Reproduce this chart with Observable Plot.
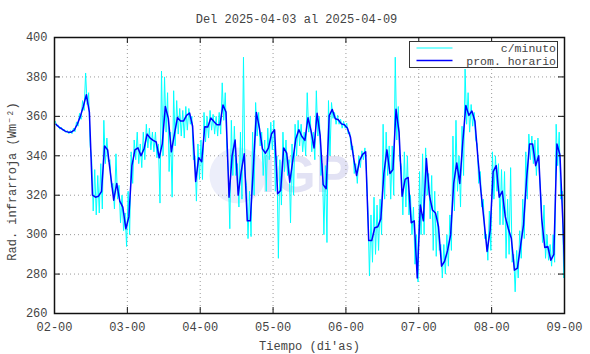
<!DOCTYPE html>
<html><head><meta charset="utf-8">
<script src="https://cdn.jsdelivr.net/npm/d3@7"></script>
<script src="https://cdn.jsdelivr.net/npm/@observablehq/plot@0.6"></script>
<style>
html,body{margin:0;padding:0;background:#fff;}
#chart{width:590px;height:354px;}
</style></head><body><div id="chart"></div>
<script>
const title = "Del 2025-04-03 al 2025-04-09";
const xLabel = "Tiempo (di'as)";
const yLabel = "Rad. infrarroja (Wm⁻²)";
const seriesNames = ["c/minuto", "prom. horario"];
const seriesColors = ["#00ffff", "#0000ff"];
const xTickHours = [0, 24, 48, 72, 96, 120, 144, 168];
const xTickLabels = ["02-00", "03-00", "04-00", "05-00", "06-00", "07-00", "08-00", "09-00"];
const yTicks = [260, 280, 300, 320, 340, 360, 380, 400];

// hourly average (prom. horario), one value per hour starting at 02-00
const hourly = [
 356, 354.5, 353.5, 352.5, 352, 352, 353, 356, 360, 365,
 371, 362, 320, 319, 319.5, 322, 345, 343, 330, 317.5,
 326, 317, 314, 303, 309, 335, 343, 344, 340, 343.5,
 351, 349, 347.8, 347, 339, 346, 365, 359, 342, 351,
 359.4, 357.6, 357.6, 360.5, 361.7, 355, 327, 339, 337, 354.7,
 354.6, 359.2, 357.4, 355.7, 355.7, 365.8, 362.2, 319, 340, 348,
 320, 332, 341, 307, 307, 334, 362, 354, 343.5, 341.3,
 344, 351.2, 353.2, 320.7, 322.4, 344, 341.3, 326.6, 337.6, 348.6,
 353.2, 349.8, 347.8, 359.3, 352.8, 344, 361.6, 350.5, 325.4, 323.3,
 360.4, 363.5, 358.8, 358.3, 356.2, 355.7, 354, 349.4, 339.3, 330,
 337.6, 340.7, 342, 297, 297, 303.5, 304, 308, 331, 343,
 331, 333, 363.6, 352, 319.5, 328, 329, 306, 307, 278,
 315, 307, 338.6, 320, 312.5, 311, 304, 284, 286.5, 292,
 300, 326, 336.4, 326, 347, 365.5, 360.5, 362.7, 357.5, 338.5,
 321.5, 307, 291.5, 302, 332, 335, 319, 322, 309, 303,
 298, 282, 283, 294, 305, 328, 346, 346, 335, 340,
 308, 293.5, 294, 287, 290, 346, 340.5, 305, 262
];
// per-minute data (c/minuto): highest and lowest reading inside each hour
const minuteMax = [
 357.5, 355.5, 354.5, 353.3, 352.8, 352.8, 354, 357.2, 361.5, 368,
 382, 372, 338, 333, 330, 336, 358, 349, 338, 326,
 341, 325, 320, 311, 322, 342, 348, 352, 346, 352,
 356, 354, 352, 352, 346, 383, 380, 372, 352, 373,
 368, 364, 363, 365, 364, 360, 340, 346, 348, 362,
 360, 363, 361, 360, 362, 377, 372, 332, 358, 355,
 336, 352, 390, 325, 322, 352, 367, 362, 352, 348,
 354, 357, 358, 340, 338, 352, 348, 338, 346, 356,
 358, 356, 352, 372, 360, 352, 373, 360, 336, 335,
 368, 367, 362, 360.5, 358.5, 357.5, 356.5, 352, 345, 336,
 340, 342.5, 344, 312, 310, 319, 315, 318, 356, 352,
 345, 345, 390, 365, 335, 342, 340, 320, 314, 300,
 332, 341, 344, 331, 330, 322, 312, 295, 295, 300,
 310, 350, 358, 340, 355, 384, 372, 366, 362, 346,
 332, 318, 300, 312, 342, 340, 336, 333, 332, 318,
 334, 290, 292, 302, 318, 342, 351, 350, 348, 349,
 318, 315, 300, 295, 300, 356, 352, 322, 290
];
const minuteMin = [
 355, 353.5, 352.8, 351.8, 351.2, 351.2, 352.2, 355, 358.5, 363,
 366, 345, 312, 310, 311, 313, 336, 337, 324, 313,
 318, 306, 302, 294, 300, 326, 338, 336, 334, 338,
 344, 343, 342, 339, 316, 340, 352, 332, 319, 345,
 351, 350, 349, 353, 356, 338, 317, 328, 328, 347,
 349, 353, 351, 350, 351, 358, 345, 303, 330, 330,
 314, 318, 330, 298, 299, 320, 350, 345, 330, 322,
 338, 343, 322, 288, 315, 332, 330, 306, 320, 340,
 345, 342, 340, 352, 342, 338, 350, 330, 300, 296,
 340, 359, 356, 356, 354, 354, 351, 343, 331, 326,
 334, 338, 332, 279, 286, 290, 292, 300, 318, 330,
 318, 320, 348, 338, 310, 314, 310, 300, 285, 276,
 300, 300, 320, 308, 292, 289, 292, 278, 280, 284,
 292, 312, 322, 314, 330, 356, 352, 355, 348, 326,
 314, 298, 287, 292, 318, 322, 305, 305, 288, 290,
 286, 271, 278, 288, 298, 318, 338, 336, 330, 330,
 296, 288, 287, 284, 286, 335, 318, 278, 262
];

const hourlyData = hourly.map((v, i) => ({t: i + 0.5, v}));
const minuteData = minuteMax.flatMap((hi, i) => [
  {t: i + 0.25, v: hi},
  {t: i + 0.75, v: minuteMin[i]}
]);

const W = 590, H = 354, mL = 54, mR = 26, mT = 37, mB = 41;
const fw = W - mL - mR, fh = H - mT - mB;
const textColor = "#444";
const monoFont = "'Liberation Mono', 'DejaVu Sans Mono', monospace";

const chart = Plot.plot({
  width: W, height: H,
  marginLeft: mL, marginRight: mR, marginTop: mT, marginBottom: mB,
  style: {fontFamily: monoFont, fontSize: "12px", color: textColor, background: "#fff"},
  x: {domain: [0, 168], label: null},
  y: {domain: [260, 400], label: null},
  marks: [
    Plot.dot([0], {frameAnchor: "middle", dx: -72, r: 28, fill: "#eceefa", stroke: "none"}),
    Plot.text(["IGP"], {frameAnchor: "middle", dx: -4, fontSize: 52, fontWeight: "bold",
      fontFamily: "'Liberation Sans', Arial, sans-serif", fill: "#e2e2f4"}),
    Plot.gridX(xTickHours, {stroke: "#9a9a9a", strokeOpacity: 1, strokeDasharray: "1,3"}),
    Plot.gridY(yTicks, {stroke: "#9a9a9a", strokeOpacity: 1, strokeDasharray: "1,3"}),
    Plot.line(minuteData, {x: "t", y: "v", stroke: seriesColors[0], strokeWidth: 1, clip: true}),
    Plot.line(hourlyData, {x: "t", y: "v", stroke: seriesColors[1], strokeWidth: 1.5, clip: true}),
    Plot.tickX(xTickHours, {x: d => d, insetTop: fh - 6, stroke: "#111"}),
    Plot.tickX(xTickHours, {x: d => d, insetBottom: fh - 6, stroke: "#111"}),
    Plot.tickY(yTicks, {y: d => d, insetRight: fw - 6, stroke: "#111"}),
    Plot.tickY(yTicks, {y: d => d, insetLeft: fw - 6, stroke: "#111"}),
    Plot.frame({stroke: "#111", strokeWidth: 1.5}),
    Plot.axisX(xTickHours, {tickFormat: d => xTickLabels[xTickHours.indexOf(d)],
      tickSize: 0, tickPadding: 9, label: null, fill: textColor}),
    Plot.axisY(yTicks, {tickSize: 0, tickPadding: 7, label: null, fill: textColor}),
    Plot.text([title], {frameAnchor: "top", dy: -18, dx: -13, lineAnchor: "middle", fill: textColor}),
    Plot.text([xLabel], {frameAnchor: "bottom", dy: 33, lineAnchor: "middle", fill: textColor}),
    Plot.text([yLabel], {frameAnchor: "left", dx: -42, dy: 6, rotate: -90, textAnchor: "middle",
      lineAnchor: "middle", fill: textColor})
  ]
});

// legend box (inside frame, top-right)
const svg = d3.select(chart);
const boxRight = W - mR - 6.5, boxTop = mT + 4.5, boxW = 148, boxH = 26;
const boxLeft = boxRight - boxW;
const lg = svg.append("g");
lg.append("rect").attr("x", boxLeft).attr("y", boxTop).attr("width", boxW).attr("height", boxH)
  .attr("fill", "#fff").attr("stroke", "#333").attr("stroke-width", 1);
seriesNames.forEach((name, i) => {
  const yy = boxTop + 6.5 + i * 12.5;
  lg.append("line").attr("x1", boxLeft + 7).attr("x2", boxLeft + 43)
    .attr("y1", yy).attr("y2", yy).attr("stroke", seriesColors[i]).attr("stroke-width", i ? 1.5 : 1);
  lg.append("text").attr("x", boxRight - 1.5).attr("y", yy).attr("dy", "0.35em")
    .attr("text-anchor", "end").attr("fill", textColor)
    .attr("font-family", monoFont).attr("font-size", 11.5).text(name);
});

document.getElementById("chart").appendChild(chart);
</script></body></html>
